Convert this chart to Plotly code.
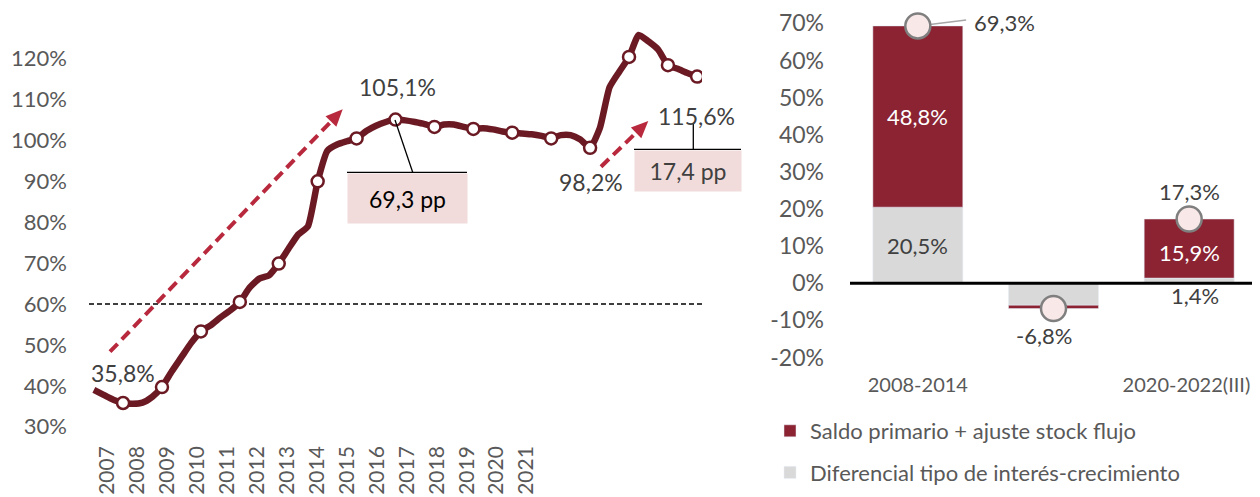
import plotly.graph_objects as go

# ---------------- data ----------------
# Quarterly public debt (% of GDP), 2007Q1 .. 2022Q3
debt_2007 = [39.0, 37.8, 36.6, 35.8]
debt_2008 = [35.6, 35.9, 37.3, 39.7]
debt_2009 = [43.5, 47.0, 50.5, 53.3]
debt_2010 = [54.8, 56.7, 58.4, 60.5]
debt_2011 = [64.0, 66.2, 67.0, 69.9]
debt_2012 = [73.5, 77.0, 79.0, 90.0]
debt_2013 = [97.5, 99.0, 99.8, 100.5]
debt_2014 = [102.3, 103.6, 104.5, 105.1]
debt_2015 = [104.9, 104.5, 104.0, 103.3]
debt_2016 = [103.9, 103.9, 103.3, 102.8]
debt_2017 = [103.0, 102.7, 102.2, 101.9]
debt_2018 = [101.7, 101.5, 101.1, 100.5]
debt_2019 = [101.3, 101.3, 100.2, 98.2]
debt_2020 = [103.0, 113.0, 116.8, 120.4]
debt_2021 = [125.8, 124.2, 122.2, 118.4]
debt_2022 = [117.5, 116.5, 115.6]

year_labels = [str(y) for y in range(2007, 2022)]
left_yticks = [30, 40, 50, 60, 70, 80, 90, 100, 110, 120]
reference_level = 60

bar_categories = ["2008-2014", "2015-2019", "2020-2022(III)"]
bar_tick_labels = ["2008-2014", "", "2020-2022(III)"]
primario = [48.8, -0.9, 15.9]       # Saldo primario + ajuste stock flujo
diferencial = [20.5, -5.9, 1.4]     # Diferencial tipo de interés-crecimiento
totales = [69.3, -6.8, 17.3]
right_yticks = [-20, -10, 0, 10, 20, 30, 40, 50, 60, 70]

box_texts = ["69,3 pp", "17,4 pp"]

debt = (debt_2007 + debt_2008 + debt_2009 + debt_2010 + debt_2011 + debt_2012 +
        debt_2013 + debt_2014 + debt_2015 + debt_2016 + debt_2017 + debt_2018 +
        debt_2019 + debt_2020 + debt_2021 + debt_2022)
idx = list(range(len(debt)))
marker_idx = [i for i in idx if i % 4 == 3] + [idx[-1]]

# ---------------- styling ----------------
W, H = 1260, 497
OFF = 8  # page body margin
FONT = "Lato"
MAROON = "#6b1a24"
BAR_RED = "#8b2332"
BAR_GRAY = "#d9d9d9"
ARROW_RED = "#b8293d"
TXT = "#595959"
DARK = "#404040"
PINK = "#f2dcdb"


def px(x):
    return (x - OFF) / W


def py(y):
    return 1 - (y - OFF) / H


def fmt(v):
    return f"{v:.1f}".replace(".", ",") + "%"


fig = go.Figure()

# left chart
fig.add_trace(go.Scatter(x=idx, y=debt, mode="lines",
                         line=dict(color=MAROON, width=6.5, shape="spline", smoothing=0.5),
                         showlegend=False, hoverinfo="skip", xaxis="x", yaxis="y"))
fig.add_trace(go.Scatter(x=marker_idx, y=[debt[i] for i in marker_idx], mode="markers",
                         marker=dict(size=12, color="white",
                                     line=dict(color=MAROON, width=2.5)),
                         showlegend=False, hoverinfo="skip", xaxis="x", yaxis="y"))

# right chart
bx = list(range(len(bar_categories)))
fig.add_trace(go.Bar(x=bx, y=diferencial, marker_color=BAR_GRAY, width=0.663,
                     name="Diferencial tipo de interés-crecimiento",
                     legendgroup="g2", legendrank=2, xaxis="x2", yaxis="y2"))
fig.add_trace(go.Bar(x=bx, y=primario, marker_color=BAR_RED, width=0.663,
                     name="Saldo primario + ajuste stock flujo",
                     legendgroup="g1", legendrank=1, xaxis="x2", yaxis="y2"))
fig.add_trace(go.Scatter(x=bx, y=totales, mode="markers",
                         marker=dict(size=25, color="#f8e8e8",
                                     line=dict(color="#7f7f7f", width=2.5)),
                         showlegend=False, hoverinfo="skip", xaxis="x2", yaxis="y2"))

# ---------------- layout ----------------
n = len(debt)
tick_pos = [1.32 + 3.083 * k for k in range(len(year_labels))]
bar_tick_pos = [0, 1, 1.98]

left_x_dom = [px(89), px(702)]
left_y_rng = [28, 128]
left_y_dom = [py(434.9), py(25.9)]
right_x_dom = [px(850), px(1257)]
right_y_rng = [-22, 74]
right_y_dom = [py(365.0), py(8.46)]

fig.update_layout(
    width=W, height=H,
    margin=dict(l=0, r=0, t=0, b=0, autoexpand=False),
    paper_bgcolor="white", plot_bgcolor="white",
    font=dict(family=FONT, color=TXT),
    barmode="relative",
    xaxis=dict(domain=left_x_dom, range=[-0.5, n - 0.5], showgrid=False, zeroline=False,
               showline=False, tickmode="array", tickvals=tick_pos, ticktext=year_labels,
               tickangle=-90, tickfont=dict(size=21, color=TXT, family=FONT),
               ticks="", ticklabelstandoff=6, automargin=False),
    yaxis=dict(domain=left_y_dom, range=left_y_rng, showgrid=False, zeroline=False,
               showline=False, tickmode="array", tickvals=left_yticks,
               ticktext=[f"{v}%" for v in left_yticks],
               tickfont=dict(size=22, color=TXT, family=FONT), ticks="",
               ticklabelstandoff=21, automargin=False),
    xaxis2=dict(domain=right_x_dom, range=[-0.5, 2.5], showgrid=False, zeroline=False,
                showline=False, tickmode="array", tickvals=bar_tick_pos,
                ticktext=bar_tick_labels,
                tickfont=dict(size=20, color=TXT, family=FONT), ticks="",
                ticklabelstandoff=6, anchor="y2", automargin=False),
    yaxis2=dict(domain=right_y_dom, range=right_y_rng, showgrid=False, zeroline=False,
                showline=False, tickmode="array", tickvals=right_yticks,
                ticktext=[f"{v}%" for v in right_yticks],
                tickfont=dict(size=23, color=TXT, family=FONT), ticks="",
                ticklabelstandoff=25, anchor="x2", automargin=False),
    legend=dict(x=px(770), y=py(410), xanchor="left", yanchor="top",
                traceorder="grouped", tracegroupgap=10,
                font=dict(size=22, color=TXT, family=FONT),
                bgcolor="rgba(0,0,0,0)", itemwidth=30),
    showlegend=True,
)

shapes = []
annotations = []

# 60% dashed reference line
shapes.append(dict(type="line", xref="x domain", yref="y", x0=0, x1=1,
                   y0=reference_level, y1=reference_level,
                   line=dict(color="black", width=1.5, dash="5px,3px"), layer="below"))

# zero line right chart
shapes.append(dict(type="line", xref="x2 domain", yref="y2", x0=0, x1=1, y0=0, y1=0,
                   line=dict(color="black", width=3), layer="above"))


def arrow(x0, y0, x1, y1):
    # dashed shaft + filled triangular head, given in pixel coords
    dx, dy = x1 - x0, y1 - y0
    L = (dx * dx + dy * dy) ** 0.5
    ux, uy = dx / L, dy / L
    hl, hw = 17, 7.5
    bxp, byp = x1 - hl * ux, y1 - hl * uy
    nx, ny = -uy, ux
    shapes.append(dict(type="line", xref="paper", yref="paper",
                       x0=px(x0), y0=py(y0), x1=px(bxp + 2 * ux), y1=py(byp + 2 * uy),
                       line=dict(color=ARROW_RED, width=4, dash="11px,6px")))
    path = (f"M {px(x1)} {py(y1)} L {px(bxp + hw * nx)} {py(byp + hw * ny)} "
            f"L {px(bxp - hw * nx)} {py(byp - hw * ny)} Z")
    shapes.append(dict(type="path", xref="paper", yref="paper", path=path,
                       fillcolor=ARROW_RED, line=dict(width=0)))


arrow(110, 351.7, 342.7, 109.3)
arrow(601, 166.7, 648.3, 121)

# point labels on the debt line
i_start = 3
i_peak = idx[debt.index(max(debt[:40]))]
i_low = 51
i_end = idx[-1]
for i, xs, ys in [(i_start, 0, 30), (i_peak, 2, 33), (i_low, 1, -34), (i_end, -1, -39)]:
    annotations.append(dict(x=i, y=debt[i], xref="x", yref="y", text=fmt(debt[i]),
                            showarrow=False, xshift=xs, yshift=ys,
                            xanchor="center", yanchor="middle",
                            font=dict(size=23, color=DARK, family=FONT)))

# boxes
annotations.append(dict(x=px(407), y=py(198), xref="paper", yref="paper", text=box_texts[0],
                        showarrow=False, bgcolor=PINK, width=119, height=49, borderpad=0,
                        xanchor="center", yanchor="middle",
                        font=dict(size=23, color="black", family=FONT)))
shapes.append(dict(type="line", xref="paper", yref="paper", x0=px(347), x1=px(467),
                   y0=py(172.3), y1=py(172.3), line=dict(color="black", width=1.3)))
shapes.append(dict(type="line", xref="paper", yref="paper", x0=px(395), x1=px(412.7),
                   y0=py(120), y1=py(172.3), line=dict(color="black", width=1.3)))

annotations.append(dict(x=px(687.5), y=py(171), xref="paper", yref="paper", text=box_texts[1],
                        showarrow=False, bgcolor=PINK, width=106, height=40, borderpad=0,
                        xanchor="center", yanchor="middle",
                        font=dict(size=23, color=DARK, family=FONT)))
shapes.append(dict(type="line", xref="paper", yref="paper", x0=px(634), x1=px(741),
                   y0=py(149.3), y1=py(149.3), line=dict(color="black", width=1.3)))
shapes.append(dict(type="line", xref="paper", yref="paper", x0=px(693.3), x1=px(693.3),
                   y0=py(124), y1=py(149.3), line=dict(color="black", width=1.3)))

# bar labels
annotations.append(dict(x=0, y=diferencial[0] + primario[0] / 2, xref="x2", yref="y2",
                        text=fmt(primario[0]), showarrow=False,
                        font=dict(size=22, color="white", family=FONT)))
annotations.append(dict(x=0, y=diferencial[0] / 2, xref="x2", yref="y2",
                        text=fmt(diferencial[0]), showarrow=False,
                        font=dict(size=22, color=DARK, family=FONT)))
annotations.append(dict(x=2, y=diferencial[2] + primario[2] / 2, xref="x2", yref="y2",
                        text=fmt(primario[2]), showarrow=False, yshift=-4,
                        font=dict(size=22, color="white", family=FONT)))
annotations.append(dict(x=2, y=0, xref="x2", yref="y2", text=fmt(diferencial[2]),
                        showarrow=False, xshift=6, yshift=-12,
                        font=dict(size=22, color=DARK, family=FONT)))

# totals labels
annotations.append(dict(x=0, y=totales[0], xref="x2", yref="y2", text=fmt(totales[0]),
                        showarrow=False, xshift=87, yshift=3, xanchor="center",
                        font=dict(size=22, color=DARK, family=FONT)))
shapes.append(dict(type="line", xref="x2", yref="y2", x0=0, y0=totales[0],
                   x1=0.356, y1=totales[0] + 1.6,
                   line=dict(color="#a6a6a6", width=1.5), layer="below"))
annotations.append(dict(x=1, y=totales[1], xref="x2", yref="y2", text=fmt(totales[1]),
                        showarrow=False, xshift=-10, yshift=-27,
                        font=dict(size=22, color=DARK, family=FONT)))
annotations.append(dict(x=2, y=totales[2], xref="x2", yref="y2", text=fmt(totales[2]),
                        showarrow=False, xshift=0, yshift=28,
                        font=dict(size=22, color=DARK, family=FONT)))

fig.update_layout(shapes=shapes, annotations=annotations)

fig.write_html("out.html")
